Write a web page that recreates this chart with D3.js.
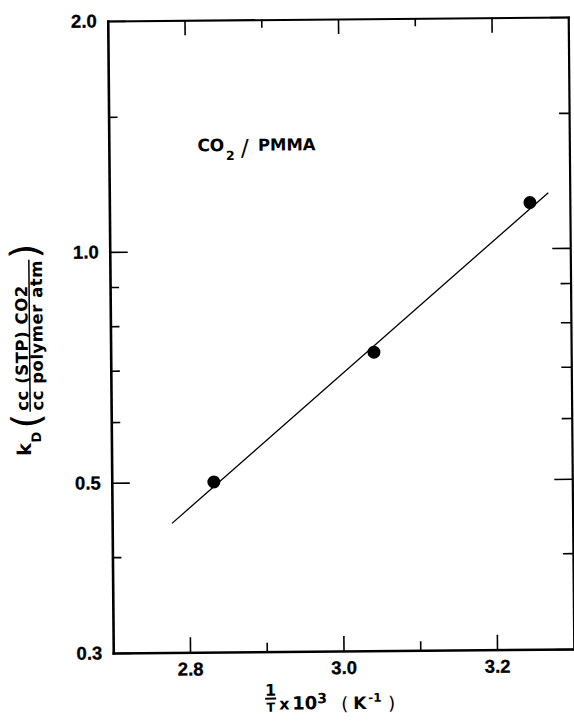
<!DOCTYPE html>
<html>
<head>
<meta charset="utf-8">
<script src="https://cdn.jsdelivr.net/npm/d3@7"></script>
<style>
  html, body { margin: 0; padding: 0; background: #fff; }
  svg { display: block; }
  text { font-family: "Liberation Sans", Arial, Helvetica, sans-serif; fill: #000; }
  .dj { font-family: "DejaVu Sans", "Liberation Sans", sans-serif; }
</style>
</head>
<body>
<div id="chart"></div>
<script>
// ---- data ----
const xMajorTicks = [2.8, 3.0, 3.2];
const xMajorLabels = ["2.8", "3.0", "3.2"];
const xMinorTicks = [2.9, 3.1];
const yMajorTicks = [2.0, 1.0, 0.5, 0.3];
const yMajorLabels = ["2.0", "1.0", "0.5", "0.3"];
const yMinorTicks = [1.5, 0.9, 0.8, 0.7, 0.6, 0.4];

const invT = [2.833, 3.043, 3.248];        // 1/T x 10^3 (K^-1)
const kD = [0.500, 0.735, 1.147];          // cc(STP)CO2 / cc polymer atm

const fitInvT = [2.778, 3.272];            // fitted line ends
const fitKD = [0.442, 1.181];

// ---- layout ----
const W = 574, H = 722;
const m = { left: 110.5, right: 3, top: 19, bottom: 71 };

const svg = d3.select("#chart").append("svg")
  .attr("width", W).attr("height", H);

// the scanned figure is slightly rotated
const g = svg.append("g").attr("transform", "rotate(-0.5, 340, 335)");

const x = d3.scaleLinear().domain([2.7, 3.3]).range([m.left, W - m.right]);
const y = d3.scaleLog().domain([0.3, 2.0]).range([H - m.bottom, m.top]);

const x0 = x.range()[0], x1 = x.range()[1];
const y0 = y.range()[0], y1 = y.range()[1];

function styleAxis(sel, domainWidth, keepDomain) {
  sel.attr("font-size", 18.5).attr("font-family", "'Liberation Sans', Arial, sans-serif")
     .attr("font-weight", "bold");
  sel.selectAll(".tick line").attr("stroke", "#000").attr("stroke-width", 1.6);
  if (keepDomain) {
    sel.select(".domain").attr("stroke", "#000").attr("stroke-width", domainWidth)
      .attr("stroke-linecap", "square");
  } else {
    sel.select(".domain").remove();
  }
  sel.selectAll("text")
    .attr("font-size", 18.5).style("font-size", "18.5px").style("font-weight", "bold")
    .attr("fill", "#000").attr("stroke", "#000").attr("stroke-width", 0.3);
}

// bottom axis
g.append("g").attr("transform", `translate(0,${y0})`)
  .call(d3.axisBottom(x).tickValues(xMajorTicks)
    .tickFormat((d, i) => xMajorLabels[i])
    .tickSizeInner(-15).tickSizeOuter(0).tickPadding(10))
  .call(s => styleAxis(s, 2.6, true));
g.append("g").attr("transform", `translate(0,${y0})`)
  .call(d3.axisBottom(x).tickValues(xMinorTicks).tickFormat("")
    .tickSizeInner(-9).tickSizeOuter(0))
  .call(s => styleAxis(s, 0, false));

// top axis
g.append("g").attr("transform", `translate(0,${y1})`)
  .call(d3.axisTop(x).tickValues(xMajorTicks).tickFormat("")
    .tickSizeInner(-15).tickSizeOuter(0))
  .call(s => styleAxis(s, 2.2, true));
g.append("g").attr("transform", `translate(0,${y1})`)
  .call(d3.axisTop(x).tickValues(xMinorTicks).tickFormat("")
    .tickSizeInner(-8).tickSizeOuter(0))
  .call(s => styleAxis(s, 0, false));

// left axis
g.append("g").attr("transform", `translate(${x0},0)`)
  .call(d3.axisLeft(y).tickValues(yMajorTicks)
    .tickFormat((d, i) => yMajorLabels[i])
    .tickSizeInner(-18).tickSizeOuter(0).tickPadding(11))
  .call(s => styleAxis(s, 2.6, true));
g.append("g").attr("transform", `translate(${x0},0)`)
  .call(d3.axisLeft(y).tickValues(yMinorTicks).tickFormat("")
    .tickSizeInner(-9).tickSizeOuter(0))
  .call(s => styleAxis(s, 0, false));

// right axis
g.append("g").attr("transform", `translate(${x1},0)`)
  .call(d3.axisRight(y).tickValues(yMajorTicks).tickFormat("")
    .tickSizeInner(-18).tickSizeOuter(0))
  .call(s => styleAxis(s, 2.2, true));
g.append("g").attr("transform", `translate(${x1},0)`)
  .call(d3.axisRight(y).tickValues(yMinorTicks).tickFormat("")
    .tickSizeInner(-10).tickSizeOuter(0))
  .call(s => styleAxis(s, 0, false));

// fitted line
const fit = fitInvT.map((v, i) => [v, fitKD[i]]);
g.append("path")
  .datum(fit)
  .attr("d", d3.line().x(d => x(d[0])).y(d => y(d[1])))
  .attr("fill", "none").attr("stroke", "#000").attr("stroke-width", 1.3);

// data points
g.append("g").selectAll("circle")
  .data(invT.map((v, i) => [v, kD[i]]))
  .join("circle")
  .attr("cx", d => x(d[0])).attr("cy", d => y(d[1]))
  .attr("r", 6.5).attr("fill", "#000");

// annotation CO2 / PMMA
const ann = g.append("g");
ann.append("text").attr("class", "dj").attr("x", 199).attr("y", 150)
  .attr("font-size", 17).attr("font-weight", "bold").text("CO");
ann.append("text").attr("class", "dj").attr("x", 227.5).attr("y", 159)
  .attr("font-size", 12.5).attr("font-weight", "bold").text("2");
ann.append("text").attr("class", "dj").attr("x", 242.5).attr("y", 155)
  .attr("font-size", 23).attr("font-weight", "normal").text("/");
ann.append("text").attr("class", "dj").attr("x", 259.5).attr("y", 150)
  .attr("font-size", 16.5).attr("font-weight", "bold").text("PMMA");

// x-axis title: 1/T x 10^3 ( K^-1)
const xt = g.append("g");
xt.append("text").attr("class", "dj").attr("x", 267.5).attr("y", 695).attr("text-anchor", "middle")
  .attr("font-size", 16).attr("font-weight", "bold").text("1");
xt.append("line").attr("x1", 262).attr("x2", 273).attr("y1", 698).attr("y2", 698)
  .attr("stroke", "#000").attr("stroke-width", 2);
xt.append("text").attr("class", "dj").attr("x", 267.5).attr("y", 711).attr("text-anchor", "middle")
  .attr("font-size", 12.5).attr("font-weight", "bold").text("T");
xt.append("text").attr("class", "dj").attr("x", 276).attr("y", 709)
  .attr("font-size", 16).attr("font-weight", "bold").text("x");
xt.append("text").attr("class", "dj").attr("x", 289).attr("y", 709)
  .attr("font-size", 18).attr("font-weight", "bold").text("10");
xt.append("text").attr("class", "dj").attr("x", 314).attr("y", 703)
  .attr("font-size", 14).attr("font-weight", "bold").text("3");
xt.append("text").attr("class", "dj").attr("x", 338).attr("y", 710)
  .attr("font-size", 18).attr("font-weight", "normal").text("(");
xt.append("text").attr("class", "dj").attr("x", 350).attr("y", 709)
  .attr("font-size", 17).attr("font-weight", "bold").text("K");
xt.append("text").attr("class", "dj").attr("x", 365).attr("y", 702)
  .attr("font-size", 12).attr("font-weight", "bold").text("-1");
xt.append("text").attr("class", "dj").attr("x", 385).attr("y", 710)
  .attr("font-size", 18).attr("font-weight", "normal").text(")");

// y-axis title: kD ( cc(STP)CO2 / cc polymer atm )
const yt = g.append("g").attr("transform", "translate(0,453) rotate(-90)");
yt.append("text").attr("class", "dj").attr("x", 0).attr("y", 30)
  .attr("font-size", 19).attr("font-weight", "bold").text("k");
yt.append("text").attr("class", "dj").attr("x", 13).attr("y", 40)
  .attr("font-size", 13).attr("font-weight", "bold").text("D");
yt.append("text").attr("class", "dj").attr("x", 27).attr("y", 39)
  .attr("font-size", 39).attr("font-weight", "normal").text("(");
yt.append("text").attr("class", "dj").attr("x", 45).attr("y", 27.5)
  .attr("font-size", 16.5).attr("font-weight", "bold")
  .attr("textLength", 125).attr("lengthAdjust", "spacing").text("cc (STP) CO2");
yt.append("line").attr("x1", 44).attr("x2", 196).attr("y1", 29.5).attr("y2", 29.5)
  .attr("stroke", "#000").attr("stroke-width", 1.5);
yt.append("text").attr("class", "dj").attr("x", 45).attr("y", 42.5)
  .attr("font-size", 16.5).attr("font-weight", "bold")
  .attr("textLength", 150).attr("lengthAdjust", "spacing").text("cc polymer atm");
yt.append("text").attr("class", "dj").attr("x", 197).attr("y", 39)
  .attr("font-size", 39).attr("font-weight", "normal").text(")");
</script>
</body>
</html>
